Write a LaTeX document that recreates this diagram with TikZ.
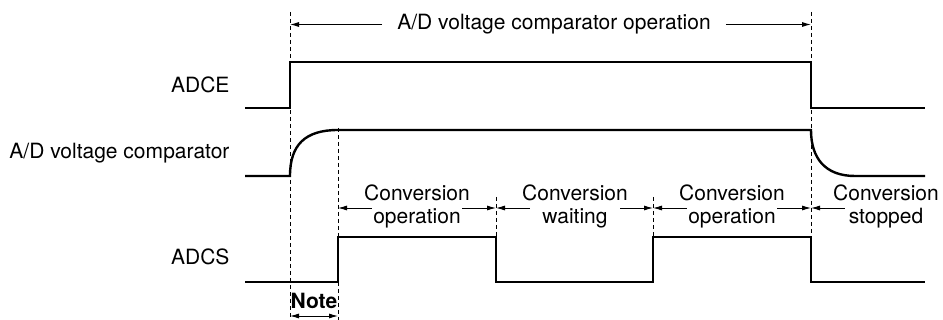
\documentclass[tikz,border=0pt]{standalone}
\usepackage{fontspec}
\setmainfont{TeX Gyre Heros}
\usetikzlibrary{arrows.meta,positioning}

\tikzset{
  wave/.style={line width=2.4pt, line join=miter},
  guide/.style={line width=0.9pt, dash pattern=on 4pt off 3pt},
  dimarrow/.style={line width=0.9pt, -{Latex[length=9pt,width=5pt]}},
  dimboth/.style={line width=0.9pt, {Latex[length=9pt,width=5pt]}-{Latex[length=9pt,width=5pt]}},
  signame/.style={anchor=east},
  phase/.style={inner sep=0pt, minimum width=90pt},
}

\begin{document}
\begin{tikzpicture}[x=1pt,y=-1pt,font=\fontsize{21}{25}\selectfont]
\useasboundingbox (0,0) rectangle (943,320);
% time marks
\coordinate (t0) at (290,0);
\coordinate (t1) at (338,0);
\coordinate (t2) at (496,0);
\coordinate (t3) at (653,0);
\coordinate (t4) at (811,0);
\coordinate (arrowrow) at (0,208);
\coordinate (noterow) at (0,316);

% guide lines
\draw[guide] (290,12) -- (290,320);
\draw[guide] (338,128) -- (338,320);
\draw[guide] (496,197) -- (496,237);
\draw[guide] (653,197) -- (653,237);
\draw[guide] (811,12) -- (811,237);

% signal names
\node[signame] (adce) at (233,85) {ADCE};
\node[signame] (cmp) at (233,153) {A/D voltage comparator};
\node[signame] (adcs) at (233,257) {ADCS};

% waveforms
\draw[wave] (245,108) -- (290,108) -- (290,62) -- (811,62) -- (811,108) -- (925,108);
\draw[wave] (245,176) -- (290,176) .. controls (290,145) and (305,130) .. (338,130)
  -- (811,130) .. controls (811,158) and (825,176) .. (855,176) -- (925,176);
\draw[wave] (245,282) -- (338,282) -- (338,237) -- (496,237) -- (496,282)
  -- (653,282) -- (653,237) -- (811,237) -- (811,282) -- (925,282);

% top span
\node[inner xsep=15pt] (adop) at (554,24.5) {A/D voltage comparator operation};
\draw[dimarrow] (adop.west) -- (adop.west -| t0);
\draw[dimarrow] (adop.east) -- (adop.east -| t4);

% phases
\node (opA) at (417,193) {Conversion};
\node[phase] (opAs) at (417,218) {operation};
\draw[dimarrow] (opAs.west |- arrowrow) -- (t1 |- arrowrow);
\draw[dimarrow] (opAs.east |- arrowrow) -- (t2 |- arrowrow);

\node (wt) at (575,193) {Conversion};
\node[phase] (wts) at (575,218) {waiting};
\draw[dimarrow] (wts.west |- arrowrow) -- (t2 |- arrowrow);
\draw[dimarrow] (wts.east |- arrowrow) -- (t3 |- arrowrow);

\node (opB) at (732,193) {Conversion};
\node[phase] (opBs) at (732,218) {operation};
\draw[dimarrow] (opBs.west |- arrowrow) -- (t3 |- arrowrow);
\draw[dimarrow] (opBs.east |- arrowrow) -- (t4 |- arrowrow);

\node (stp) at (886,193) {Conversion};
\node[phase, minimum width=82pt] (stps) at (886,218) {stopped};
\draw[dimarrow] (stps.west |- arrowrow) -- (t4 |- arrowrow);

% note
\node[font=\fontsize{21}{25}\selectfont\bfseries] (note) at (314,301) {Note};
\draw[dimboth] (t0 |- noterow) -- (t1 |- noterow);
\end{tikzpicture}
\end{document}
